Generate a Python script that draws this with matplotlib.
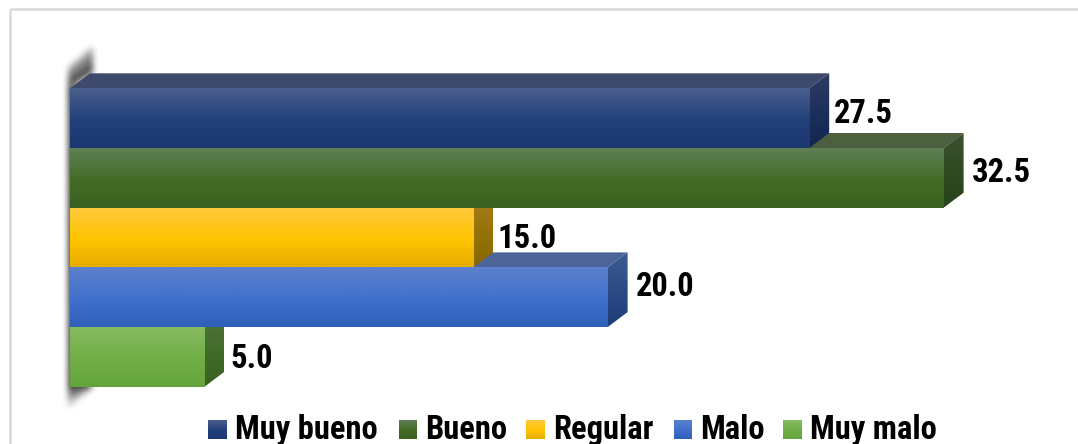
import numpy as np
import matplotlib
matplotlib.use('Agg')
import matplotlib.pyplot as plt
from matplotlib.patches import Polygon, Rectangle

categories = ['Muy bueno', 'Bueno', 'Regular', 'Malo', 'Muy malo']
values = [27.5, 32.5, 15.0, 20.0, 5.0]
value_labels = ['27.5', '32.5', '15.0', '20.0', '5.0']

# gradient stops for the front face, then top and side face colours
front_top = ['#4a5f8c', '#5f7f55', '#ffc93c', '#5b80cc', '#86bb60']
front_mid = ['#213f7a', '#436b25', '#ffc400', '#4070cc', '#70ae45']
front_bot = ['#1c3870', '#3b6020', '#e6ad00', '#2f5fb8', '#65a33c']
top_col = ['#3e4a6d', '#4c5f3e', '#b8902a', '#4d6499', '#5d8a45']
side_top = ['#2e3d63', '#3c5030', '#a87f22', '#3d5a92', '#50753a']
side_mid = ['#1b2f5c', '#2e4a20', '#957205', '#2a4a85', '#426b2a']
side_bot = ['#132650', '#28421a', '#8a6800', '#1f3d78', '#3a6320']

# hand placed value labels, pixel offsets from the end of the side face
label_dx = [5, 8, 4, 8, 6]
label_dy = [-4, -5, 1, -10, 2]

W, H = 1078, 444
plt.rcParams['font.family'] = ['Roboto Condensed', 'DejaVu Sans']

fig = plt.figure(figsize=(W / 100, H / 100), dpi=100)

# soft shadow + frame on a background axes in pixel coordinates
bg = fig.add_axes([0, 0, 1, 1])
bg.axis('off')
yy, xx = np.mgrid[0:H, 0:W]
mask = np.zeros((H, W))
mask[88:387, 68:90] = 1
inx = (xx >= 68) & (xx <= 92)
y_t = 66 - (xx - 68) * 0.85
y_b = 89 - (xx - 68) * 0.67
top = np.clip((yy - y_t) / (y_b - y_t), 0, 1) ** 0.5
top[~inx | (yy < y_t) | (yy > y_b)] = 0
mask = np.maximum(mask, top)
bot_end = 410 - (xx - 68) * 0.9
bot = np.clip(1 - (yy - 386) / (bot_end - 386 + 1e-6), 0, 1)
bot[~inx | (yy < 386) | (yy > bot_end)] = 0
mask = np.maximum(mask, bot)
k = np.ones(7) / 7
for _ in range(2):
    mask = np.apply_along_axis(lambda r: np.convolve(r, k, mode='same'), 0, mask)
    mask = np.apply_along_axis(lambda r: np.convolve(r, k, mode='same'), 1, mask)
rgba = np.zeros((H, W, 4))
rgba[..., :3] = 0.25
rgba[..., 3] = np.clip(mask, 0, 1)
bg.imshow(rgba, extent=(0, W, H, 0), aspect='auto', interpolation='bilinear', zorder=1)
bg.add_patch(Rectangle((9.5, 9.5), 1100, 450, fill=False, ec='#d9d9d9', lw=1.8, zorder=0))

# chart axes: 26.88 px per unit from x=70, one band per category from y=88
# the band above zero leaves room for the top face of the first bar
dx = 20 / 26.88
dy = 15 / 59.7
n = len(values)
ax = fig.add_axes([70 / W, 1 - 386.8 / H, 26.88 * 37 / W, 59.7 * (n + dy) / H])
ax.patch.set_alpha(0)
ax.axis('off')


def ramp(c0, c1, c2, steps=64):
    c0, c1, c2 = [np.array(matplotlib.colors.to_rgb(c)) for c in (c0, c1, c2)]
    out = np.zeros((steps, 1, 3))
    for j, t in enumerate(np.linspace(0, 1, steps)):
        out[j, 0] = c0 + (c1 - c0) * t / 0.55 if t < 0.55 else c1 + (c2 - c1) * (t - 0.55) / 0.45
    return out


# first category sits on top, so its front face hides the top of the next one
for i, v in enumerate(values):
    z = 2 + (n - i) * 3
    ax.add_patch(Polygon([(0, i), (dx, i - dy), (v + dx, i - dy), (v, i)], fc=top_col[i], ec='none', zorder=z))
    side = Polygon([(v, i), (v + dx, i - dy), (v + dx, i + 1 - dy), (v, i + 1)], fc='none', ec='none', zorder=z)
    ax.add_patch(side)
    im = ax.imshow(ramp(side_top[i], side_mid[i], side_bot[i]), extent=(v, v + dx, i + 1, i - dy),
                   aspect='auto', zorder=z, interpolation='bilinear')
    im.set_clip_path(side)
    ax.imshow(ramp(front_top[i], front_mid[i], front_bot[i]), extent=(0, v, i + 1, i),
              aspect='auto', zorder=z + 1, interpolation='bilinear')
    ax.annotate(value_labels[i], (v + dx, i + 0.5), xytext=(label_dx[i] * 0.72, -label_dy[i] * 0.72),
                textcoords='offset points', fontsize=23.5, fontweight='bold', color='black',
                va='center', ha='left', zorder=50)
ax.set_xlim(0, 37)
ax.set_ylim(n, -dy)

# legend laid out by hand so the swatches can keep the gradient
swatch_x = [208, 399, 526, 674, 783]
swatch_w = [19, 18, 19, 18, 19]
text_x = [235, 425, 553, 700, 810]
for i, name in enumerate(categories):
    bg.imshow(ramp(front_top[i], front_mid[i], front_bot[i]),
              extent=(swatch_x[i], swatch_x[i] + swatch_w[i], 439, 420),
              aspect='auto', zorder=5, interpolation='bilinear')
    bg.text(text_x[i], 429.5, name, fontsize=23.5, fontweight='bold', color='black', va='center', ha='left')
bg.set_xlim(0, W)
bg.set_ylim(H, 0)

fig.savefig('out.png', dpi=100)
